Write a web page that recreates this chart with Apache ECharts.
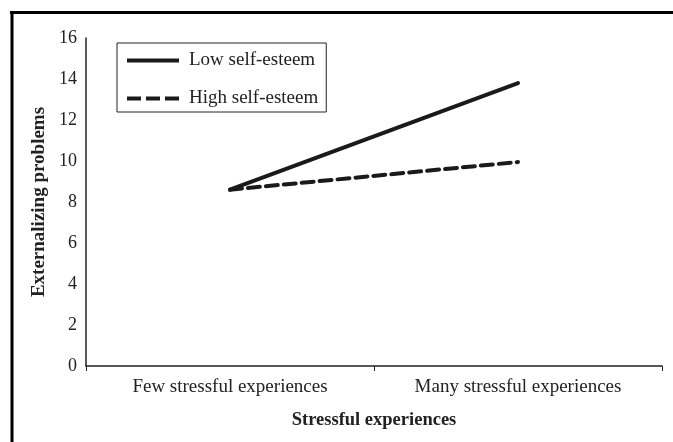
<!DOCTYPE html>
<html>
<head>
<meta charset="utf-8">
<script src="https://cdn.jsdelivr.net/npm/echarts@6/dist/echarts.min.js"></script>
<style>
html,body{margin:0;padding:0;background:#fff;}
#chart{width:673px;height:442px;}
</style>
</head>
<body>
<div id="chart"></div>
<script>
var categories = ['Few stressful experiences', 'Many stressful experiences'];
var lowSelfEsteem = [8.6, 13.8];
var highSelfEsteem = [8.6, 9.95];
var seriesNames = ['Low self-esteem', 'High self-esteem'];
var yTicks = {min: 0, max: 16, interval: 2};
var xAxisTitle = 'Stressful experiences';
var yAxisTitle = 'Externalizing problems';

var FONT = '"Liberation Serif", "Times New Roman", serif';
var solidIcon = 'path://M0,0 H52 V4 H0 Z';
var dashIcon = 'path://M0,0 H14 V4 H0 Z M19,0 H33 V4 H19 Z M38,0 H52 V4 H38 Z';
var chart = echarts.init(document.getElementById('chart'));
chart.setOption({
  animation: false,
  backgroundColor: '#fff',
  textStyle: {fontFamily: FONT, color: '#222'},
  graphic: [
    {type: 'line', shape: {x1: 10, y1: 12.5, x2: 673, y2: 12.5}, style: {stroke: '#000', lineWidth: 3}},
    {type: 'line', shape: {x1: 12, y1: 11, x2: 12, y2: 442}, style: {stroke: '#000', lineWidth: 3}}
  ],
  grid: {left: 86, right: 11, top: 38, bottom: 76, containLabel: false},
  legend: {
    left: 117, top: 43,
    orient: 'vertical',
    data: [
      {name: seriesNames[0], icon: solidIcon},
      {name: seriesNames[1], icon: dashIcon}
    ],
    itemWidth: 52, itemHeight: 4,
    itemGap: 19,
    padding: [8, 8, 4, 10],
    borderColor: '#222', borderWidth: 1,
    itemStyle: {color: '#1a1a1a'},
    textStyle: {fontFamily: FONT, fontSize: 19, color: '#222', padding: [0, 0, 0, 5]}
  },
  xAxis: {
    type: 'category',
    data: categories,
    boundaryGap: true,
    axisLine: {lineStyle: {color: '#222', width: 1.5}},
    axisTick: {show: true, length: 5, lineStyle: {color: '#222'}},
    axisLabel: {fontFamily: FONT, fontSize: 19, color: '#222', margin: 12},
    name: xAxisTitle,
    nameLocation: 'middle',
    nameGap: 45,
    nameTextStyle: {fontFamily: FONT, fontSize: 18.5, fontWeight: 'bold', color: '#222'}
  },
  yAxis: {
    type: 'value',
    min: yTicks.min, max: yTicks.max, interval: yTicks.interval,
    axisLine: {show: true, lineStyle: {color: '#222', width: 1.5}},
    axisTick: {show: false},
    splitLine: {show: false},
    axisLabel: {fontFamily: FONT, fontSize: 18, color: '#222', margin: 9},
    name: yAxisTitle,
    nameLocation: 'middle',
    nameGap: 36,
    nameTextStyle: {fontFamily: FONT, fontSize: 19, fontWeight: 'bold', color: '#222'}
  },
  series: [
    {
      name: seriesNames[0], type: 'line', data: lowSelfEsteem,
      symbol: 'none', color: '#1a1a1a',
      lineStyle: {color: '#1a1a1a', width: 4, type: 'solid', cap: 'round'}
    },
    {
      name: seriesNames[1], type: 'line', data: highSelfEsteem,
      symbol: 'none', color: '#1a1a1a',
      lineStyle: {color: '#1a1a1a', width: 4, type: [12, 6], cap: 'round'}
    }
  ]
});
</script>
</body>
</html>
